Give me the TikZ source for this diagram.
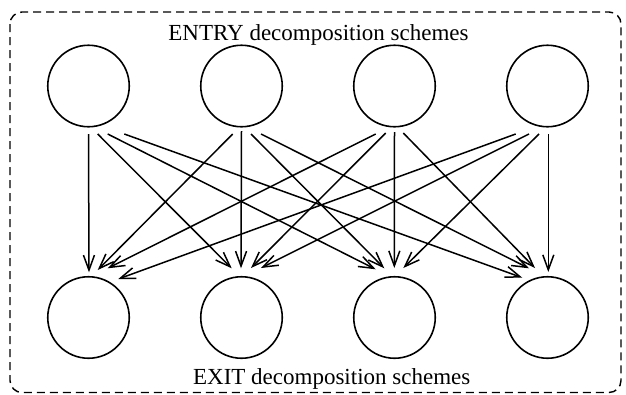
\documentclass[tikz,border=0pt]{standalone}
\usepackage{fontspec}
\setmainfont{Liberation Serif}
\usetikzlibrary{arrows.meta}
\begin{document}
\begin{tikzpicture}[x=1pt,y=-1pt,
  scheme/.style={draw,circle,line width=1.6pt,minimum size=81.5pt,inner sep=0pt},
  link/.style={line width=1.5pt,-{Straight Barb[length=15pt,width=11pt,line width=1.5pt]}},
  frame/.style={draw,dashed,dash pattern=on 8pt off 5pt,line width=1.4pt,rounded corners=12pt},
  caption/.style={font=\fontsize{23}{27}\selectfont,anchor=base,inner sep=0pt}]
\useasboundingbox (0,0) rectangle (626,394);
\draw[frame] (10,12) rectangle (621,392.5);
\node[caption] (top) at (318.5,40.7) {ENTRY decomposition schemes};
\node[caption] (bot) at (331.7,384) {EXIT decomposition schemes};
\node[scheme] (t1) at (88.5,86) {};
\node[scheme] (t2) at (241.5,86) {};
\node[scheme] (t3) at (394.5,86) {};
\node[scheme] (t4) at (547.5,86) {};
\node[scheme] (b1) at (88.5,317.5) {};
\node[scheme] (b2) at (241.5,317.5) {};
\node[scheme] (b3) at (394.5,317.5) {};
\node[scheme] (b4) at (547.5,317.5) {};
% from t1
\draw[link] ([shift={(0,48)}]t1.center) -- ([shift={(0.5,-45.2)}]b1.center);
\draw[link] ([shift={(9.2,48)}]t1.center) -- ([shift={(-9.8,-49.2)}]b2.center);
\draw[link] ([shift={(19.2,48)}]t1.center) -- ([shift={(-18.8,-48.2)}]b3.center);
\draw[link] ([shift={(35.8,48)}]t1.center) -- ([shift={(-25.2,-39.8)}]b4.center);
% from t2
\draw[link] ([shift={(-8.8,48)}]t2.center) -- ([shift={(9.2,-47.5)}]b1.center);
\draw[link] ([shift={(0,45)}]t2.center) -- ([shift={(-0.5,-49.2)}]b2.center);
\draw[link] ([shift={(9.5,48)}]t2.center) -- ([shift={(-10.2,-49.2)}]b3.center);
\draw[link] ([shift={(19.5,48)}]t2.center) -- ([shift={(-18.5,-49.2)}]b4.center);
% from t3
\draw[link] ([shift={(-18.8,48)}]t3.center) -- ([shift={(19.2,-49.2)}]b1.center);
\draw[link] ([shift={(-8.8,47)}]t3.center) -- ([shift={(9.5,-49.5)}]b2.center);
\draw[link] ([shift={(0,46)}]t3.center) -- ([shift={(-0.2,-49.5)}]b3.center);
\draw[link] ([shift={(8.8,47)}]t3.center) -- ([shift={(-12.5,-49.5)}]b4.center);
% from t4
\draw[link] ([shift={(-31.8,48)}]t4.center) -- ([shift={(29.8,-38.5)}]b1.center);
\draw[link] ([shift={(-18.5,48)}]t4.center) -- ([shift={(19.5,-49.5)}]b2.center);
\draw[link] ([shift={(-8.5,48)}]t4.center) -- ([shift={(8.8,-49.5)}]b3.center);
\draw[link] ([shift={(0.8,48)}]t4.center) -- ([shift={(0.8,-45.5)}]b4.center);
\end{tikzpicture}
\end{document}
